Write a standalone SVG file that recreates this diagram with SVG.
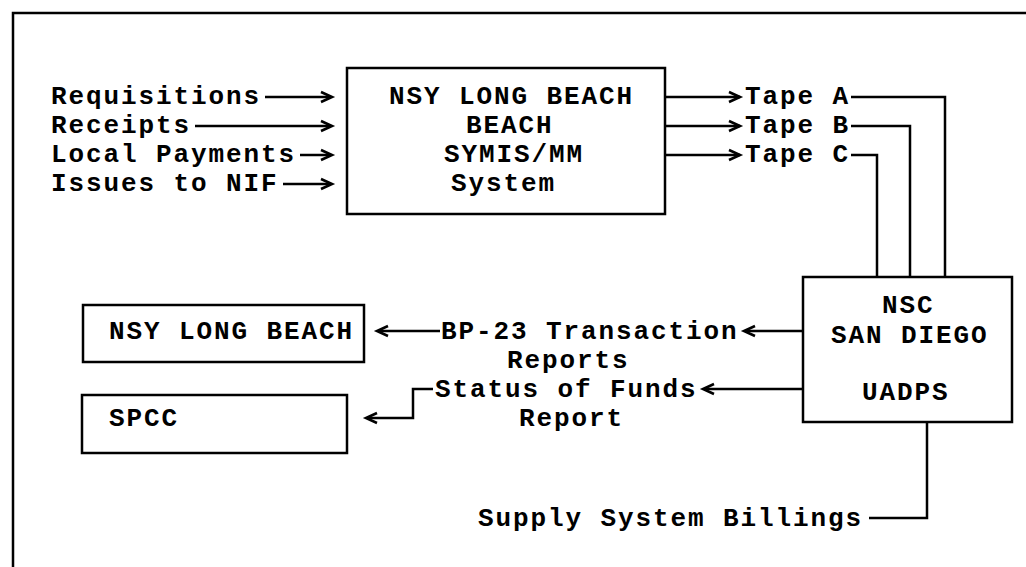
<svg xmlns="http://www.w3.org/2000/svg" width="1026" height="567" viewBox="0 0 1026 567">
  <style>
    .t { font-family: "Liberation Mono", "DejaVu Sans Mono", monospace; font-weight: bold; font-size: 26px; letter-spacing: 1.9px; fill: #000; }
    .box { fill: #fff; stroke: #000; stroke-width: 2.5; }
    .ln { fill: none; stroke: #000; stroke-width: 2.5; stroke-linejoin: miter; }
    .hd { fill: none; stroke: #000; stroke-width: 2.6; stroke-linejoin: miter; }
  </style>
  <defs>
    <polyline id="gt" class="hd" points="0,-5 11,0 0,5"/>
    <polyline id="lt" class="hd" points="11,-5 0,0 11,5"/>
  </defs>
  <rect width="1026" height="567" fill="#fff"/>
  <path id="frame" class="ln" d="M13,567 V13 H1026"/>

  <g id="n-symis">
    <rect class="box" x="347" y="68" width="318" height="146"/>
    <text class="t" x="389" y="104">NSY LONG BEACH</text>
    <text class="t" x="466" y="133">BEACH</text>
    <text class="t" x="444" y="162">SYMIS/MM</text>
    <text class="t" x="451" y="191">System</text>
  </g>

  <g id="n-nsc">
    <rect class="box" x="803" y="277" width="209" height="145"/>
    <text class="t" x="882" y="313">NSC</text>
    <text class="t" x="831" y="343">SAN DIEGO</text>
    <text class="t" x="862" y="400">UADPS</text>
  </g>

  <g id="n-nsy-lb">
    <rect class="box" x="83" y="305" width="281" height="57"/>
    <text class="t" x="109" y="339">NSY LONG BEACH</text>
  </g>

  <g id="n-spcc">
    <rect class="box" x="82" y="395" width="265" height="58"/>
    <text class="t" x="109" y="426">SPCC</text>
  </g>

  <g id="labels">
    <text class="t" x="51" y="104">Requisitions</text>
    <text class="t" x="51" y="133">Receipts</text>
    <text class="t" x="51" y="162">Local Payments</text>
    <text class="t" x="51" y="191">Issues to NIF</text>
    <text class="t" x="745" y="104">Tape A</text>
    <text class="t" x="745" y="133">Tape B</text>
    <text class="t" x="745" y="162">Tape C</text>
    <text class="t" x="441" y="339">BP-23 Transaction</text>
    <text class="t" x="507" y="368">Reports</text>
    <text class="t" x="435" y="397">Status of Funds</text>
    <text class="t" x="519" y="426">Report</text>
    <text class="t" x="478" y="526">Supply System Billings</text>
  </g>

  <g id="connectors">
    <!-- inputs to SYMIS -->
    <path class="ln" d="M265,97 H331"/>
    <use href="#gt" x="321" y="97"/>
    <path class="ln" d="M195,126 H331"/>
    <use href="#gt" x="321" y="126"/>
    <path class="ln" d="M300,155 H331"/>
    <use href="#gt" x="321" y="155"/>
    <path class="ln" d="M283,184 H331"/>
    <use href="#gt" x="321" y="184"/>
    <!-- SYMIS to tapes -->
    <path class="ln" d="M665,97 H740"/>
    <use href="#gt" x="729" y="97"/>
    <path class="ln" d="M665,126 H740"/>
    <use href="#gt" x="729" y="126"/>
    <path class="ln" d="M665,155 H740"/>
    <use href="#gt" x="729" y="155"/>
    <!-- tapes to NSC -->
    <path class="ln" d="M851,97 H945 V277"/>
    <path class="ln" d="M851,126 H910 V277"/>
    <path class="ln" d="M851,155 H877 V277"/>
    <!-- NSC to NSY Long Beach -->
    <path class="ln" d="M803,331 H745"/>
    <use href="#lt" x="744" y="331"/>
    <path class="ln" d="M440,331 H378"/>
    <use href="#lt" x="377" y="331"/>
    <!-- NSC to SPCC -->
    <path class="ln" d="M803,389 H704"/>
    <use href="#lt" x="703" y="389"/>
    <path class="ln" d="M433,389 H413 V418 H368"/>
    <use href="#lt" x="366" y="418"/>
    <!-- Supply system billings -->
    <path class="ln" d="M869,518 H927 V422"/>
  </g>
</svg>
